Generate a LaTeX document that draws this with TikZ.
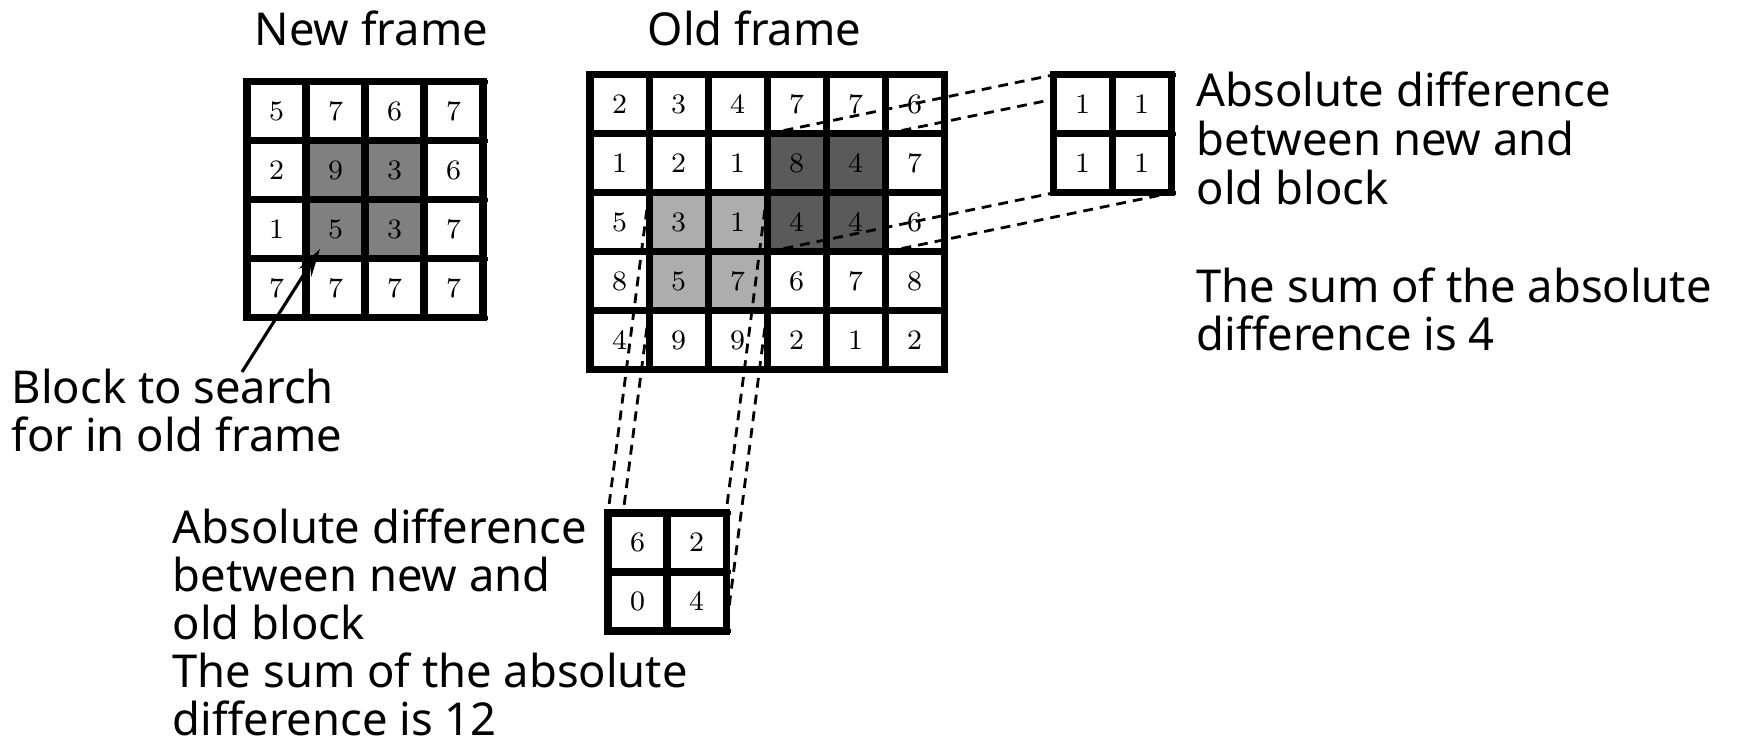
\documentclass[tikz,border=0pt]{standalone}
\usepackage{fontspec}
\newfontfamily\labelfont{Noto Sans}
\usetikzlibrary{arrows.meta,calc,backgrounds}

\definecolor{selgray}{HTML}{808080}
\definecolor{matchdark}{HTML}{5A5A5A}
\definecolor{matchlight}{HTML}{ADADAD}

\begin{document}
\begin{tikzpicture}[
    cell/.style={draw, line width=2pt, minimum size=0.59cm, inner sep=0pt, outer sep=0pt,
        font=\fontsize{8}{8}\selectfont},
    note/.style={font=\labelfont\fontsize{12.9}{13.9}\selectfont, align=left,
        inner sep=0pt, anchor=base west},
    proj/.style={line width=0.8pt, dash pattern=on 2.8pt off 2pt},
    tick/.style={line width=1.2pt},
    pointer/.style={line width=0.9pt, -{Stealth[length=0.28cm,width=0.15cm]}}
]
\useasboundingbox (0,0) rectangle (17.39,7.46);

% new frame, 4x4
\foreach \row [count=\r from 0] in {{5,7,6,7},{2,9,3,6},{1,5,3,7},{7,7,7,7}}
    \foreach \v [count=\c from 0] in \row
        \node[cell] (new-\r\c) at (2.765+0.59*\c, 6.345-0.59*\r) {\v};
\foreach \r in {0,...,3}
    \draw[tick] (new-\r3.north east) -- ++(0.05,0);
\draw[tick] (new-33.south east) -- ++(0.05,0);

% old frame, 6x5
\foreach \row [count=\r from 0] in {{2,3,4,7,7,6},{1,2,1,8,4,7},{5,3,1,4,4,6},{8,5,7,6,7,8},{4,9,9,2,1,2}}
    \foreach \v [count=\c from 0] in \row
        \node[cell] (old-\r\c) at (6.195+0.59*\c, 6.415-0.59*\r) {\v};

% absolute differences of the two candidate blocks
\foreach \row [count=\r from 0] in {{1,1},{1,1}}
    \foreach \v [count=\c from 0] in \row
        \node[cell, fill=white] (diffr-\r\c) at (10.825+0.59*\c, 6.415-0.59*\r) {\v};
\foreach \row [count=\r from 0] in {{6,2},{0,4}}
    \foreach \v [count=\c from 0] in \row
        \node[cell, fill=white] (diffb-\r\c) at (6.375+0.59*\c, 2.035-0.59*\r) {\v};
\foreach \r in {0,1} {
    \draw[tick] (diffr-\r1.north east) -- ++(0.05,0);
    \draw[tick] (diffb-\r1.north east) -- ++(0.05,0);
}
\draw[tick] (diffr-11.south east) -- ++(0.05,0);
\draw[tick] (diffb-11.south east) -- ++(0.05,0);

\begin{scope}[on background layer]
    \fill[selgray] (new-11.north west) rectangle (new-22.south east);
    \fill[matchdark] (old-13.north west) rectangle (old-24.south east);
    \fill[matchlight] (old-21.north west) rectangle (old-32.south east);
    % projections of the matched blocks
    \draw[proj] (old-13.north west) -- (diffr-00.north west);
    \draw[proj] (old-14.north east) -- (diffr-01.north east);
    \draw[proj] (old-23.south west) -- (diffr-10.south west);
    \draw[proj] (old-24.south east) -- (diffr-11.south east);
    \draw[proj] (old-21.north west) -- (diffb-00.north west);
    \draw[proj] (old-22.north east) -- (diffb-01.north east);
    \draw[proj] (old-31.south west) -- (diffb-10.south west);
    \draw[proj] (old-32.south east) -- (diffb-11.south east);
\end{scope}

% labels (base = last line)
\node[note] (newtitle) at (2.54,7.00) {New frame};
\node[note] (oldtitle) at (6.47,7.00) {Old frame};
\node[note] (search) at (0.11,2.94) {Block to search\\for in old frame};
\node[note] (sumr) at (11.96,3.95) {Absolute difference\\between new and\\old block\\[\baselineskip]The sum of the absolute\\difference is 4};
\node[note, font=\labelfont\fontsize{12.9}{13.7}\selectfont] (sumb) at (1.72,0.10) {Absolute difference\\between new and\\old block\\The sum of the absolute\\difference is 12};

\coordinate (tail) at (2.42,3.74);
\coordinate (tip) at ($(new-21.south west)+(0.14,0.10)$);
\draw[pointer] (tail) -- (tip);
\end{tikzpicture}
\end{document}
